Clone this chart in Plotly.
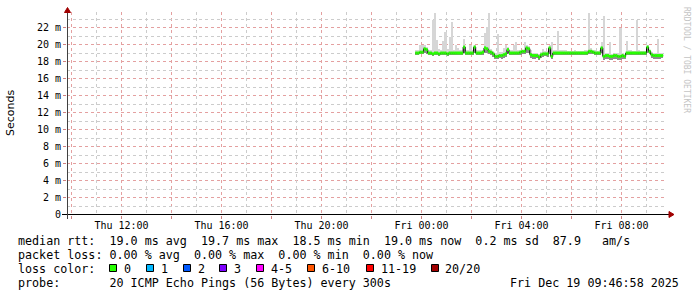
import plotly.graph_objects as go
import pandas as pd

# ---------------- data ----------------
step_start = "2025-12-18 23:45:00"   # first 5-minute step
step_seconds = 300

median_ms = [
    19.0, 19.0, 19.1, 19.1, 19.5, 19.4, 19.0, 19.0, 18.9, 19.0,
    19.0, 18.9, 19.0, 19.0, 19.0, 18.9, 19.0, 19.0, 19.0, 19.0,
    19.0, 19.0, 19.0, 19.7, 19.0, 19.0, 19.0, 19.0, 19.7, 19.0,
    19.0, 19.0, 19.1, 19.6, 19.5, 19.2, 19.1, 18.9, 18.6, 18.6,
    18.7, 18.7, 18.8, 18.9, 19.4, 19.0, 19.0, 19.0, 19.0, 19.0,
    19.1, 19.2, 19.2, 19.6, 19.5, 18.8, 18.7, 18.7, 18.7, 18.5,
    18.8, 18.9, 18.9, 18.9, 19.6, 18.6, 19.0, 19.0, 19.0, 19.0,
    19.0, 19.0, 19.0, 19.0, 19.0, 19.0, 19.0, 19.0, 19.0, 19.0,
    19.0, 19.0, 19.0, 19.2, 19.2, 19.1, 19.0, 19.0, 19.0, 19.6,
    18.6, 18.7, 18.7, 18.6, 18.6, 18.7, 18.7, 18.6, 18.6, 18.7,
    18.6, 19.0, 19.0, 19.0, 19.0, 19.0, 19.0, 19.0, 19.0, 19.0,
    19.0, 19.7, 19.2, 18.8, 18.7, 18.7, 18.7, 18.7, 18.7,
]

smoke_max_ms = [
    19.3, 19.4, 19.9, 19.9, 19.9, 19.7, 19.3, 19.4, 22.9, 23.7,
    20.5, 19.5, 19.3, 20.4, 21.5, 19.5, 20.9, 22.7, 19.4, 19.9,
    19.6, 19.3, 19.3, 20.7, 19.3, 19.3, 19.9, 19.3, 19.9, 19.3,
    19.3, 19.4, 19.4, 21.3, 22.1, 23.7, 19.5, 19.2, 19.0, 21.2,
    19.1, 19.1, 19.6, 19.9, 19.7, 19.3, 19.3, 19.9, 20.3, 19.3,
    19.4, 19.4, 20.3, 19.9, 19.8, 19.4, 19.0, 19.0, 19.0, 18.9,
    19.1, 19.5, 19.2, 19.2, 19.9, 20.3, 19.3, 19.3, 21.6, 19.3,
    19.3, 19.3, 19.3, 19.2, 19.2, 19.2, 19.3, 19.2, 19.2, 19.2,
    19.2, 19.3, 19.3, 23.7, 19.6, 19.4, 19.3, 19.2, 19.3, 20.3,
    23.3, 19.0, 19.0, 20.3, 18.9, 18.9, 19.0, 19.0, 21.9, 19.0,
    18.9, 20.4, 19.4, 19.4, 19.2, 19.2, 22.9, 19.3, 19.2, 19.2,
    19.2, 19.9, 19.4, 19.1, 19.0, 19.0, 20.6, 19.0, 19.0,
]

smoke_min_ms = [
    18.8, 18.8, 18.9, 18.9, 19.0, 18.9, 18.8, 18.8, 18.7, 18.8,
    18.8, 18.7, 18.8, 18.8, 18.8, 18.7, 18.8, 18.8, 18.8, 18.8,
    18.8, 18.8, 18.8, 19.0, 18.8, 18.8, 18.8, 18.8, 19.0, 18.8,
    18.8, 18.8, 18.8, 19.0, 19.0, 18.9, 18.8, 18.5, 18.3, 18.3,
    18.4, 18.3, 18.4, 18.5, 18.9, 18.8, 18.8, 18.8, 18.8, 18.8,
    18.8, 18.9, 18.9, 19.0, 19.0, 18.4, 18.3, 18.3, 18.4, 18.2,
    18.4, 18.5, 18.6, 18.5, 18.9, 18.3, 18.8, 18.8, 18.8, 18.8,
    18.8, 18.8, 18.8, 18.8, 18.8, 18.8, 18.8, 18.8, 18.8, 18.8,
    18.8, 18.8, 18.8, 18.9, 18.9, 18.9, 18.8, 18.8, 18.8, 19.0,
    18.2, 18.3, 18.3, 18.2, 18.2, 18.3, 18.3, 18.2, 18.2, 18.3,
    18.3, 18.8, 18.8, 18.8, 18.8, 18.8, 18.8, 18.8, 18.8, 18.8,
    18.8, 19.0, 18.9, 18.4, 18.3, 18.3, 18.3, 18.3, 18.4,
]

x_range = ["2025-12-18 09:49:12", "2025-12-19 09:49:12"]
x_tick_vals = ["2025-12-18 10:00", "2025-12-18 12:00", "2025-12-18 14:00",
               "2025-12-18 16:00", "2025-12-18 18:00", "2025-12-18 20:00",
               "2025-12-18 22:00", "2025-12-19 00:00", "2025-12-19 02:00",
               "2025-12-19 04:00", "2025-12-19 06:00", "2025-12-19 08:00"]
x_tick_text = ["", "Thu 12:00", "", "Thu 16:00", "", "Thu 20:00",
               "", "Fri 00:00", "", "Fri 04:00", "", "Fri 08:00"]
x_minor_vals = ["2025-12-18 11:00", "2025-12-18 13:00", "2025-12-18 15:00",
                "2025-12-18 17:00", "2025-12-18 19:00", "2025-12-18 21:00",
                "2025-12-18 23:00", "2025-12-19 01:00", "2025-12-19 03:00",
                "2025-12-19 05:00", "2025-12-19 07:00", "2025-12-19 09:00"]

y_tick_vals = [0, 2, 4, 6, 8, 10, 12, 14, 16, 18, 20, 22]
y_tick_text = ["0", "2 m", "4 m", "6 m", "8 m", "10 m", "12 m", "14 m",
               "16 m", "18 m", "20 m", "22 m"]
y_minor_vals = [1, 3, 5, 7, 9, 11, 13, 15, 17, 19, 21, 23]

loss_labels = ["0", "1", "2", "3", "4-5", "6-10", "11-19", "20/20"]
loss_colors = ["#26ff00", "#00b8ff", "#0059ff", "#7e00ff", "#ff00ff",
               "#ff5500", "#ff0000", "#a00000"]

line_median = "median rtt:  19.0 ms avg  19.7 ms max  18.5 ms min  19.0 ms now  0.2 ms sd  87.9   am/s"
line_loss = "packet loss: 0.00 % avg  0.00 % max  0.00 % min  0.00 % now"
line_color = "loss color:"
line_probe = "probe:       20 ICMP Echo Pings (56 Bytes) every 300s"
stamp = "Fri Dec 19 09:46:58 2025"
watermark = "RRDTOOL / TOBI OETIKER"

# ---------------- geometry helpers ----------------
PL, PR, PT, PB = 67, 667, 12, 215   # 600 px for 24 h -> 25 px / hour
PX_PER_MS = 8.5
Y_SHIFT_PX = 0.5


def px_x(px):
    return (px - PL) / (PR - PL)


def px_y(py):
    return (PB - py) / (PB - PT)


starts = pd.date_range(step_start, periods=len(median_ms), freq=f"{step_seconds}s")
end_t = starts[-1] + pd.Timedelta(seconds=step_seconds)
step_ms = step_seconds * 1000

fig = go.Figure()

# empty trace that carries the minor-grid overlay axes
fig.add_trace(go.Scatter(x=[], y=[], xaxis="x2", yaxis="y2", mode="lines",
                         hoverinfo="skip", showlegend=False))

# light smoke
fig.add_trace(go.Bar(
    x=starts, base=smoke_min_ms,
    y=[hi - lo for hi, lo in zip(smoke_max_ms, smoke_min_ms)],
    width=step_ms, offset=0, marker=dict(color="#d6d6d6", line=dict(width=0)),
    hoverinfo="skip", showlegend=False))
# darker smoke below median
fig.add_trace(go.Bar(
    x=starts, base=smoke_min_ms,
    y=[max(m - lo, 0) for m, lo in zip(median_ms, smoke_min_ms)],
    width=step_ms, offset=0, marker=dict(color="#8c8c8c", line=dict(width=0)),
    hoverinfo="skip", showlegend=False))

# black median step line
fig.add_trace(go.Scatter(
    x=list(starts) + [end_t], y=median_ms + [median_ms[-1]],
    mode="lines", line=dict(color="#000000", width=1, shape="hv"),
    hoverinfo="skip", showlegend=False))

# green (0 loss) median band, per step
gx, gy = [], []
for t, m in zip(starts, median_ms):
    gx += [t, t + pd.Timedelta(seconds=step_seconds), None]
    gy += [m, m, None]
fig.add_trace(go.Scatter(
    x=gx, y=gy, mode="lines", line=dict(color=loss_colors[0], width=3),
    hoverinfo="skip", showlegend=False))

mono = "DejaVu Sans Mono"
shapes = []
annotations = []

# axis lines and arrows
shapes.append(dict(type="line", xref="paper", yref="paper",
                   x0=px_x(62), x1=px_x(670), y0=px_y(214.5), y1=px_y(214.5),
                   line=dict(color="#000000", width=1)))
shapes.append(dict(type="line", xref="paper", yref="paper",
                   x0=px_x(67.5), x1=px_x(67.5), y0=px_y(219), y1=px_y(11),
                   line=dict(color="#404040", width=1)))
shapes.append(dict(type="path", xref="paper", yref="paper",
                   path=f"M {px_x(64.5)} {px_y(12.5)} L {px_x(70.5)} {px_y(12.5)} L {px_x(67.5)} {px_y(7.5)} Z",
                   fillcolor="#a00000", line=dict(color="#a00000", width=1)))
shapes.append(dict(type="path", xref="paper", yref="paper",
                   path=f"M {px_x(669)} {px_y(211.5)} L {px_x(669)} {px_y(217.5)} L {px_x(674)} {px_y(214.5)} Z",
                   fillcolor="#a00000", line=dict(color="#a00000", width=1)))

# y-axis title
annotations.append(dict(text="Seconds", xref="paper", yref="paper",
                        x=px_x(11), y=px_y(113), textangle=-90, showarrow=False,
                        xanchor="center", yanchor="middle",
                        font=dict(family="DejaVu Sans", size=11, color="#000000")))
# watermark
annotations.append(dict(text=watermark, xref="paper", yref="paper",
                        x=px_x(687), y=px_y(60), textangle=90, showarrow=False,
                        xanchor="center", yanchor="middle",
                        font=dict(family=mono, size=8, color="#c4c4c4")))

# legend / stats text
fs = 11.7
for txt, y in [(line_median, 241), (line_loss, 255), (line_color, 269), (line_probe, 283)]:
    annotations.append(dict(text=txt.replace(" ", "&nbsp;"), xref="paper", yref="paper",
                            x=px_x(16), y=px_y(y), showarrow=False,
                            xanchor="left", yanchor="middle",
                            font=dict(family=mono, size=fs, color="#000000")))
annotations.append(dict(text=stamp.replace(" ", "&nbsp;"), xref="paper", yref="paper",
                        x=px_x(681), y=px_y(283), showarrow=False,
                        xanchor="right", yanchor="middle",
                        font=dict(family=mono, size=fs, color="#000000")))

square_px = [109, 146, 183, 219, 256, 307, 366, 431]
for sx, lab, col in zip(square_px, loss_labels, loss_colors):
    shapes.append(dict(type="rect", xref="paper", yref="paper",
                       x0=px_x(sx + 0.5), x1=px_x(sx + 7.5), y0=px_y(271.5), y1=px_y(264.5),
                       fillcolor=col, line=dict(color="#000000", width=1)))
    annotations.append(dict(text=lab, xref="paper", yref="paper",
                            x=px_x(sx + 12.5), y=px_y(269), showarrow=False,
                            xanchor="left", yanchor="middle",
                            font=dict(family=mono, size=fs, color="#000000")))

major_grid = "#e4a0a0"
minor_grid = "#cccccc"
y_lo = -Y_SHIFT_PX / PX_PER_MS
y_range = [y_lo, y_lo + (PB - PT) / PX_PER_MS]
fig.update_layout(
    width=697, height=297,
    margin=dict(l=PL, r=697 - PR, t=PT, b=297 - PB),
    paper_bgcolor="#ffffff", plot_bgcolor="#ffffff",
    barmode="overlay", bargap=0, showlegend=False, hovermode=False,
    shapes=shapes, annotations=annotations,
    xaxis=dict(
        type="date", range=x_range, tickmode="array",
        tickvals=x_tick_vals, ticktext=x_tick_text,
        showgrid=True, gridcolor=major_grid, griddash="dot", gridwidth=1,
        ticks="outside", ticklen=3, tickcolor="#d08080",
        ticklabelstandoff=-2,
        showline=False, zeroline=False,
        tickfont=dict(family=mono, size=10, color="#000000"),
    ),
    yaxis=dict(
        range=y_range, tickmode="array",
        tickvals=y_tick_vals, ticktext=y_tick_text,
        showgrid=True, gridcolor=major_grid, griddash="dot", gridwidth=1,
        ticks="outside", ticklen=3, tickcolor="#d08080",
        showline=False, zeroline=False,
        tickfont=dict(family=mono, size=10, color="#000000"),
    ),
    xaxis2=dict(
        type="date", range=x_range, overlaying="x", anchor="y",
        tickmode="array", tickvals=x_minor_vals, showticklabels=False, ticks="",
        showgrid=True, gridcolor=minor_grid, griddash="dot", gridwidth=1,
        showline=False, zeroline=False,
    ),
    yaxis2=dict(
        range=y_range, overlaying="y", anchor="x",
        tickmode="array", tickvals=y_minor_vals, showticklabels=False, ticks="",
        showgrid=True, gridcolor=minor_grid, griddash="dot", gridwidth=1,
        showline=False, zeroline=False,
    ),
)

fig.write_html("out.html")
